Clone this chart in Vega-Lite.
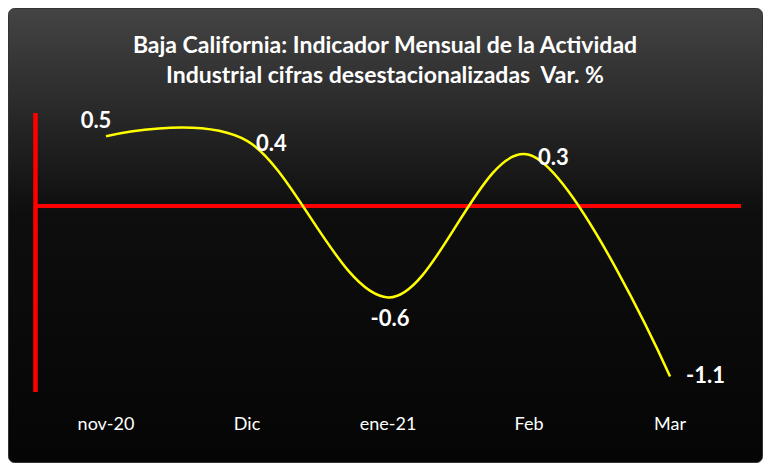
{
  "$schema": "https://vega.github.io/schema/vega-lite/v6.json",
  "autosize": {"type": "none"},
  "width": 754,
  "height": 454,
  "padding": {"left": 8, "top": 8, "right": 14, "bottom": 14},
  "background": "white",
  "config": {
    "view": {
      "fill": {"gradient": "linear", "x1": 0, "y1": 0, "x2": 0, "y2": 1,
        "stops": [{"offset": 0, "color": "#444444"}, {"offset": 0.45, "color": "#0e0e0e"}, {"offset": 1, "color": "#050505"}]},
      "stroke": "#333333",
      "cornerRadius": 6
    }
  },
  "title": {
    "text": ["Baja California: Indicador Mensual de la Actividad", "Industrial cifras desestacionalizadas\u00a0 Var. %"],
    "color": "white",
    "font": "Lato",
    "fontSize": 23,
    "fontWeight": "bold",
    "anchor": "middle",
    "offset": -80,
    "lineHeight": 30
  },
  "data": {
    "values": [
      {"mes": "nov-20", "i": 0, "v": 0.45, "etiqueta": "0.5"},
      {"mes": "Dic", "i": 1, "v": 0.42, "etiqueta": "0.4"},
      {"mes": "ene-21", "i": 2, "v": -0.59, "etiqueta": "-0.6"},
      {"mes": "Feb", "i": 3, "v": 0.33, "etiqueta": "0.3"},
      {"mes": "Mar", "i": 4, "v": -1.1, "etiqueta": "-1.1"}
    ]
  },
  "encoding": {
    "x": {"field": "i", "type": "quantitative", "scale": {"domain": [-0.695, 4.652], "nice": false, "zero": false}, "axis": null},
    "y": {"field": "v", "type": "quantitative", "scale": {"domain": [-1.652, 1.277], "nice": false, "zero": false}, "axis": null}
  },
  "layer": [
    {
      "mark": {"type": "rule", "color": "#ff0000", "strokeWidth": 3.5},
      "encoding": {
        "x": {"datum": -0.5, "type": "quantitative"},
        "x2": {"datum": 4.5},
        "y": {"datum": 0, "type": "quantitative"}
      }
    },
    {
      "mark": {"type": "rule", "color": "#ff0000", "strokeWidth": 3.5},
      "encoding": {
        "x": {"datum": -0.5, "type": "quantitative"},
        "y": {"datum": 0.6, "type": "quantitative"},
        "y2": {"datum": -1.2}
      }
    },
    {
      "mark": {"type": "line", "color": "#ffff00", "strokeWidth": 2.5, "interpolate": "cardinal"}
    },
    {
      "mark": {"type": "text", "color": "white", "font": "Lato", "fontSize": 18},
      "encoding": {
        "y": {"datum": -1.413, "type": "quantitative"},
        "text": {"field": "mes"}
      }
    },
    {
      "transform": [{"filter": {"field": "mes", "oneOf": ["Dic", "Feb"]}}],
      "mark": {"type": "text", "color": "white", "font": "Lato", "fontSize": 22, "fontWeight": "bold", "align": "left", "baseline": "middle", "dx": 9, "dy": 3},
      "encoding": {"text": {"field": "etiqueta"}}
    },
    {
      "transform": [{"filter": {"field": "mes", "equal": "Mar"}}],
      "mark": {"type": "text", "color": "white", "font": "Lato", "fontSize": 22, "fontWeight": "bold", "align": "left", "baseline": "middle", "dx": 16, "dy": 0},
      "encoding": {"text": {"field": "etiqueta"}}
    },
    {
      "transform": [{"filter": {"field": "mes", "equal": "nov-20"}}],
      "mark": {"type": "text", "color": "white", "font": "Lato", "fontSize": 22, "fontWeight": "bold", "align": "center", "baseline": "middle", "dx": -10, "dy": -15},
      "encoding": {"text": {"field": "etiqueta"}}
    },
    {
      "transform": [{"filter": {"field": "mes", "equal": "ene-21"}}],
      "mark": {"type": "text", "color": "white", "font": "Lato", "fontSize": 22, "fontWeight": "bold", "align": "center", "baseline": "middle", "dx": 2, "dy": 22},
      "encoding": {"text": {"field": "etiqueta"}}
    }
  ]
}
